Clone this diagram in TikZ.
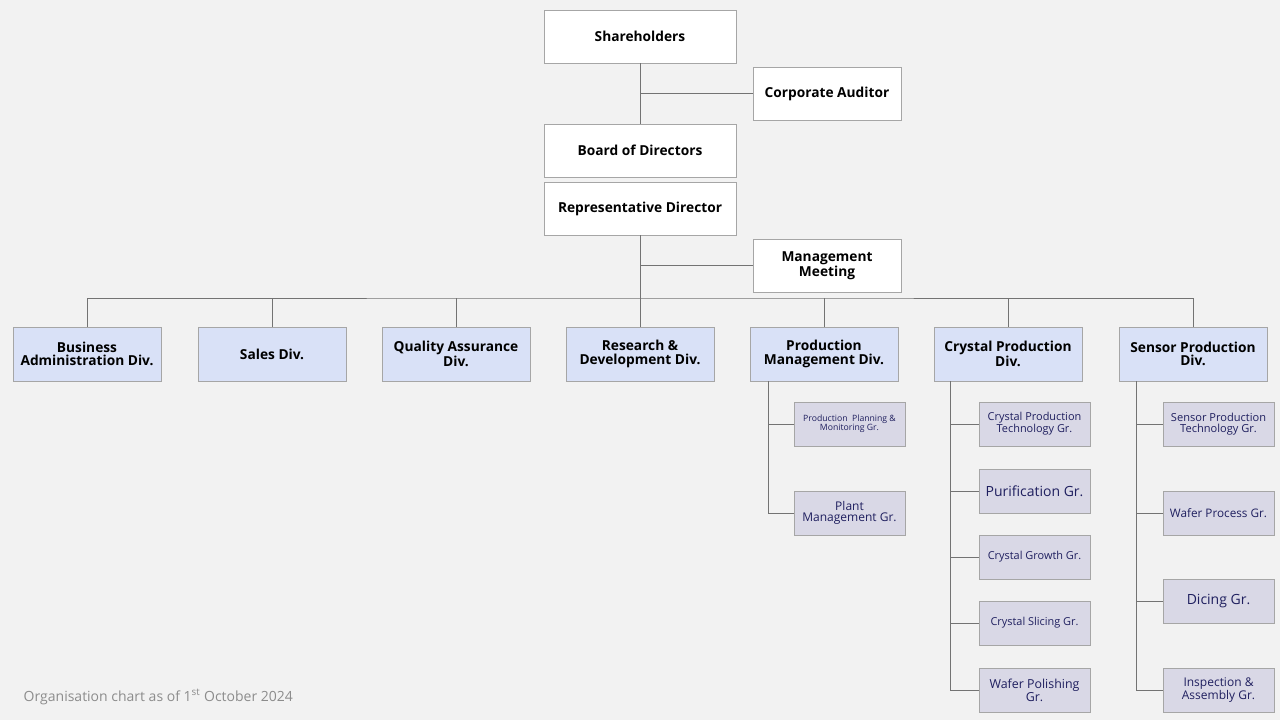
\documentclass[tikz,border=0pt]{standalone}
\usepackage{fontspec}
\setmainfont{Open Sans}
\begin{document}
\begin{tikzpicture}[x=0.75pt,y=-0.75pt,
  ln/.style={draw=black!55,line width=0.6pt},
  box/.style={draw=black!35,fill=white,line width=0.6pt,align=center,inner sep=1pt,font=\fontsize{10.3}{10}\selectfont\bfseries},
  top/.style={box,minimum width=144pt,minimum height=39.75pt},
  aux/.style={box,minimum width=111pt,minimum height=39.75pt},
  div/.style={box,fill=divc,minimum width=111pt,minimum height=40.5pt},
  sub/.style={box,fill=subc,text=navy,minimum width=83.25pt,minimum height=33pt,font=\fontsize{7.8}{7.6}\selectfont}]
\definecolor{bg}{HTML}{F2F2F2}
\definecolor{divc}{HTML}{D9E1F7}
\definecolor{subc}{HTML}{D9D8E6}
\definecolor{navy}{HTML}{1F1F5F}
\fill[bg] (0,0) rectangle (1280,720);
\useasboundingbox (0,0) rectangle (1280,720);
\node[top] (sh) at (640,36.5) {Shareholders};
\node[aux] (ca) at (827,93.5) {Corporate Auditor};
\node[top] (bd) at (640,150.5) {Board of Directors};
\node[top] (rd) at (640,208.5) {Representative Director};
\node[aux] (mm) at (827,265.5) {Management\\Meeting};
\node[div] (d1) at (87,354) {Business\\Administration Div.};
\node[div] (d2) at (272,354) {Sales Div.};
\node[div] (d3) at (456,354) {Quality Assurance\\Div.};
\node[div] (d4) at (640,354) {Research \&\\Development Div.};
\node[div] (d5) at (824,354) {Production\\Management Div.};
\node[div] (d6) at (1008,354) {Crystal Production\\Div.};
\node[div] (d7) at (1193,354) {Sensor Production\\Div.};
\node[sub,font=\fontsize{6.5}{6.8}\selectfont] (p1) at (849.5,424) {Production\ \ Planning \&\\Monitoring Gr.};
\node[sub,font=\fontsize{9}{8}\selectfont] (p2) at (849.5,513) {Plant\\Management Gr.};
\node[sub,font=\fontsize{8.2}{7.8}\selectfont] (c1) at (1034.5,424) {Crystal Production\\Technology Gr.};
\node[sub,font=\fontsize{10.5}{10}\selectfont] (c2) at (1034.5,491) {Purification Gr.};
\node[sub,font=\fontsize{8.2}{7.8}\selectfont] (c3) at (1034.5,557) {Crystal Growth Gr.};
\node[sub,font=\fontsize{8.2}{7.8}\selectfont] (c4) at (1034.5,623) {Crystal Slicing Gr.};
\node[sub,font=\fontsize{9.3}{8.5}\selectfont] (c5) at (1034.5,690) {Wafer Polishing\\Gr.};
\node[sub,font=\fontsize{8.3}{7.8}\selectfont] (s1) at (1218.5,424) {Sensor Production\\Technology Gr.};
\node[sub,font=\fontsize{8.8}{8}\selectfont] (s2) at (1218.5,513) {Wafer Process Gr.};
\node[sub,font=\fontsize{10.5}{10}\selectfont] (s3) at (1218.5,601) {Dicing Gr.};
\node[sub,font=\fontsize{9}{8.3}\selectfont] (s4) at (1218.5,690) {Inspection \&\\Assembly Gr.};
\node[anchor=west,text=black!45,font=\fontsize{10.5}{12}\selectfont] (ft) at (19,697) {Organisation chart as of 1\textsuperscript{st} October 2024};
\coordinate (bus) at (640,298);
\draw[ln] (sh.south) -- (bd.north);
\draw[ln] (ca.west) -- (ca.west -| sh.south);
\draw[ln] (rd.south) -- (d4.north);
\draw[ln] (mm.west) -- (mm.west -| rd.south);
\draw[ln] (d1.north) |- (bus) -| (d7.north);
\foreach \d in {d2,d3,d5,d6} \draw[ln] (\d.north) -- (\d.north |- bus);
\coordinate (pv) at (768,381);
\coordinate (cv) at (950,381);
\coordinate (sv) at (1136,381);
\draw[ln] (pv) |- (p2.west);
\draw[ln] (p1.west) -- (p1.west -| pv);
\draw[ln] (cv) |- (c5.west);
\foreach \n in {c1,c2,c3,c4} \draw[ln] (\n.west) -- (\n.west -| cv);
\draw[ln] (sv) |- (s4.west);
\foreach \n in {s1,s2,s3} \draw[ln] (\n.west) -- (\n.west -| sv);
\end{tikzpicture}
\end{document}
